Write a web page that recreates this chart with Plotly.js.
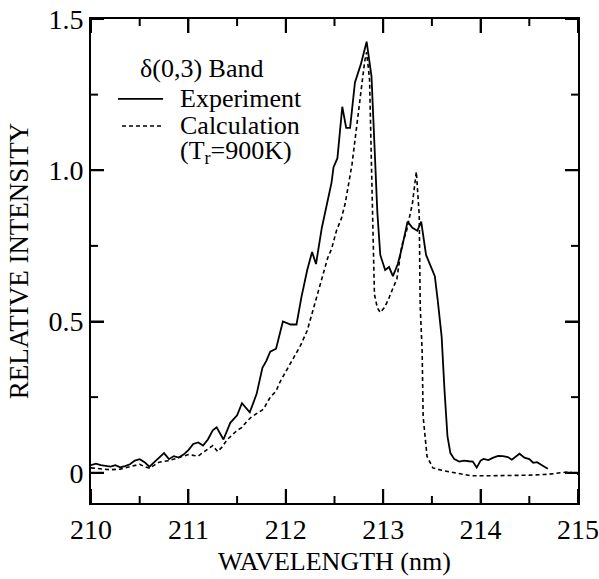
<!DOCTYPE html>
<html>
<head>
<meta charset="utf-8">
<script src="https://cdn.plot.ly/plotly-3.0.1.min.js"></script>
<style>html,body{margin:0;padding:0;background:#fff;}#chart{width:599px;height:579px;}#info{position:absolute;left:-9999px;top:0;width:10px;font:10px monospace;color:#fff;}</style>
</head>
<body>
<div id="chart"></div>
<div id="info"></div>
<script>
const info = document.getElementById('info');
function note(s){ info.textContent += s + '\n'; }
window.onerror = function(m){ note('ERR ' + m); };

// Experiment (solid)
const expWavelength = [210.00,210.05,210.10,210.15,210.20,210.25,210.30,210.35,210.40,210.45,210.50,210.55,210.60,210.65,210.70,210.75,210.80,210.85,210.90,210.95,211.00,211.05,211.10,211.15,211.20,211.25,211.29,211.36,211.43,211.50,211.55,211.60,211.63,211.70,211.76,211.80,211.84,211.90,211.97,212.05,212.11,212.16,212.22,212.27,212.31,212.37,212.42,212.47,212.49,212.53,212.58,212.62,212.66,212.71,212.77,212.83,212.88,212.91,212.94,212.97,213.02,213.06,213.10,213.15,213.19,213.25,213.30,213.35,213.39,213.44,213.50,213.53,213.56,213.60,213.63,213.66,213.69,213.73,213.78,213.83,213.88,213.92,213.96,214.00,214.03,214.08,214.13,214.18,214.23,214.28,214.32,214.36,214.40,214.45,214.50,214.54,214.58,214.63,214.69];
const expIntensity = [0.025,0.030,0.025,0.022,0.020,0.025,0.018,0.022,0.028,0.040,0.045,0.035,0.020,0.035,0.050,0.065,0.045,0.055,0.050,0.060,0.075,0.095,0.100,0.090,0.110,0.140,0.150,0.110,0.165,0.190,0.230,0.210,0.200,0.260,0.347,0.370,0.400,0.410,0.500,0.490,0.490,0.580,0.670,0.730,0.690,0.810,0.880,0.960,1.010,1.040,1.210,1.140,1.140,1.290,1.350,1.425,1.310,1.100,0.860,0.720,0.670,0.680,0.650,0.690,0.740,0.830,0.810,0.800,0.830,0.720,0.670,0.650,0.570,0.450,0.270,0.120,0.065,0.045,0.037,0.040,0.038,0.037,0.017,0.040,0.046,0.042,0.050,0.056,0.055,0.052,0.043,0.052,0.063,0.050,0.045,0.033,0.035,0.025,0.013];

// Calculation (dashed, Tr = 900 K)
const calcWavelength = [210.00,210.10,210.20,210.30,210.40,210.50,210.55,210.60,210.65,210.70,210.80,210.90,211.00,211.10,211.19,211.25,211.30,211.34,211.40,211.45,211.50,211.55,211.60,211.65,211.70,211.77,211.84,211.90,211.94,212.01,212.07,212.15,212.22,212.28,212.33,212.38,212.43,212.47,212.52,212.57,212.61,212.68,212.74,212.78,212.81,212.83,212.86,212.88,212.91,212.94,212.97,213.01,213.05,213.10,213.14,213.19,213.24,213.30,213.34,213.37,213.38,213.40,213.41,213.45,213.51,213.60,213.69,213.80,213.90,214.10,214.30,214.50,214.70,214.85,214.90,215.00];
const calcIntensity = [0.016,0.012,0.010,0.012,0.020,0.028,0.020,0.015,0.025,0.035,0.040,0.050,0.060,0.055,0.076,0.090,0.070,0.083,0.110,0.125,0.140,0.150,0.170,0.185,0.195,0.210,0.250,0.270,0.300,0.340,0.370,0.420,0.470,0.540,0.590,0.650,0.710,0.740,0.800,0.840,0.890,1.020,1.180,1.280,1.360,1.390,1.300,1.010,0.590,0.545,0.530,0.545,0.570,0.610,0.640,0.750,0.800,0.890,0.995,0.850,0.550,0.400,0.186,0.054,0.016,0.008,0.002,-0.005,-0.010,-0.010,-0.010,-0.008,-0.005,0.000,0.003,-0.005];

const yTickVals = [0, 0.5, 1.0, 1.5];
const yTickText = ["0", "0.5", "1.0", "1.5"];
const yMinorTickVals = [0.25, 0.75, 1.25];
const xTickVals = [210, 211, 212, 213, 214, 215];
const xTickText = ["210", "211", "212", "213", "214", "215"];
const xMinorTickVals = [210.5, 211.5, 212.5, 213.5, 214.5];

const FONT = "Liberation Serif";
note('fonts ' + document.fonts.check("27px 'Liberation Serif'"));

const traces = [
  {x: expWavelength, y: expIntensity, type: 'scatter', mode: 'lines', name: 'Experiment',
   line: {color: '#000', width: 1.8}},
  {x: calcWavelength, y: calcIntensity, type: 'scatter', mode: 'lines', name: 'Calculation',
   line: {color: '#000', width: 1.6, dash: '4px,3px'}}
];

// tick marks on all four sides (inside), positioned by the axes from the tick arrays
const shapes = [];
function xTick(v, len) {
  shapes.push({type: 'line', xref: 'x', yref: 'paper', ysizemode: 'pixel', yanchor: 0,
    x0: v, x1: v, y0: 0, y1: len, line: {color: '#000', width: 2}});
  shapes.push({type: 'line', xref: 'x', yref: 'paper', ysizemode: 'pixel', yanchor: 1,
    x0: v, x1: v, y0: 0, y1: -len, line: {color: '#000', width: 2}});
}
function yTick(v, len) {
  shapes.push({type: 'line', xref: 'paper', yref: 'y', xsizemode: 'pixel', xanchor: 0,
    y0: v, y1: v, x0: 0, x1: len, line: {color: '#000', width: 2}});
  shapes.push({type: 'line', xref: 'paper', yref: 'y', xsizemode: 'pixel', xanchor: 1,
    y0: v, y1: v, x0: 0, x1: -len, line: {color: '#000', width: 2}});
}
xTickVals.forEach(v => xTick(v, 14));
xMinorTickVals.forEach(v => xTick(v, 7));
yTickVals.forEach(v => yTick(v, 13));
yMinorTickVals.forEach(v => yTick(v, 7));

// legend samples
shapes.push({type: 'line', xref: 'paper', yref: 'paper', x0: 0.0554, x1: 0.148, y0: 0.835, y1: 0.835,
  line: {color: '#000', width: 1.8}});
shapes.push({type: 'line', xref: 'paper', yref: 'paper', x0: 0.0637, x1: 0.148, y0: 0.779, y1: 0.779,
  line: {color: '#000', width: 1.6, dash: '4px,3px'}});

const layout = {
  width: 599, height: 579,
  margin: {l: 91, r: 21, t: 19, b: 76},
  showlegend: false,
  font: {family: FONT, color: '#000', size: 27},
  xaxis: {
    range: [210, 215], tickmode: 'array', tickvals: xTickVals, ticktext: xTickText,
    ticks: 'inside', ticklen: 14, tickwidth: 2, tickcolor: '#000',
    showline: true, linecolor: '#000', linewidth: 2, mirror: 'ticks',
    showgrid: false, zeroline: false,
    tickfont: {family: FONT, size: 28, color: '#000'},
    title: {text: 'WAVELENGTH (nm)', font: {family: FONT, size: 26, color: '#000'}, standoff: 8}
  },
  yaxis: {
    range: [-0.1, 1.5], tickmode: 'array', tickvals: yTickVals, ticktext: yTickText,
    ticks: 'inside', ticklen: 13, tickwidth: 2, tickcolor: '#000',
    showline: true, linecolor: '#000', linewidth: 2, mirror: 'ticks',
    showgrid: false, zeroline: false,
    tickfont: {family: FONT, size: 28, color: '#000'},
    title: {text: 'RELATIVE INTENSITY', font: {family: FONT, size: 27, color: '#000'}, standoff: 12}
  },
  shapes: shapes,
  annotations: [
    {xref: 'paper', yref: 'paper', x: 0.0965, y: 0.897, xanchor: 'left', yanchor: 'middle', showarrow: false,
     text: 'δ(0,3) Band', font: {family: FONT, size: 26, color: '#000'}},
    {xref: 'paper', yref: 'paper', x: 0.1786, y: 0.835, xanchor: 'left', yanchor: 'middle', showarrow: false,
     text: 'Experiment', font: {family: FONT, size: 26, color: '#000'}},
    {xref: 'paper', yref: 'paper', x: 0.1786, y: 0.779, xanchor: 'left', yanchor: 'middle', showarrow: false,
     text: 'Calculation', font: {family: FONT, size: 26, color: '#000'}},
    {xref: 'paper', yref: 'paper', x: 0.1786, y: 0.726, xanchor: 'left', yanchor: 'middle', showarrow: false,
     text: '(T<sub>r</sub>=900K)', font: {family: FONT, size: 26, color: '#000'}}
  ]
};

const gd = document.getElementById('chart');
Plotly.newPlot(gd, traces, layout, {displayModeBar: false, staticPlot: true}).then(function(){
  const tl = gd.querySelector('.xtick text');
  note('tick ' + (tl ? getComputedStyle(tl).fontFamily : ''));
}).catch(function(e){ note('P ' + e); });
</script>
</body>
</html>
